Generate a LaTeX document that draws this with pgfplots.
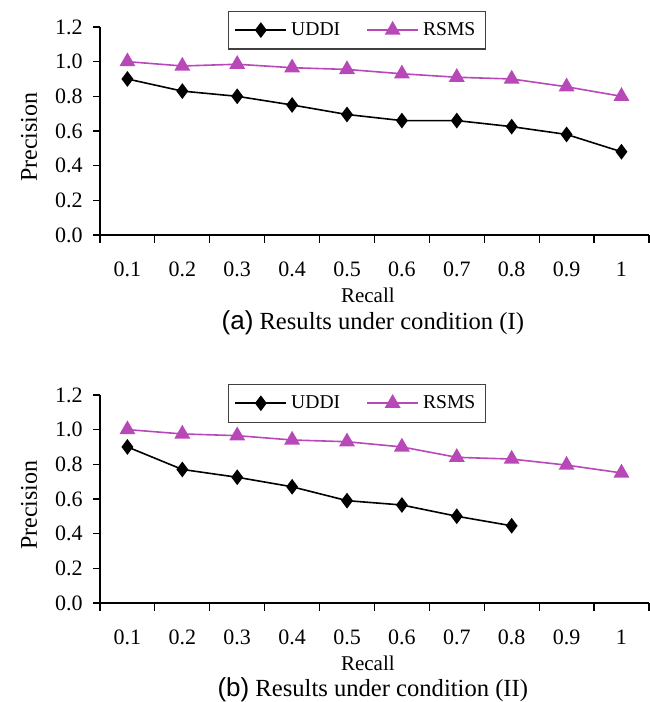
\documentclass[border=0pt]{standalone}
\usepackage{pgfplots}
\pgfplotsset{compat=1.18}
\usepackage{fontspec}
\setmainfont{Liberation Serif}
\newfontfamily\capsans{Liberation Sans}
\definecolor{rsmscol}{RGB}{184,72,184}
\pgfplotsset{
  myaxis/.style={
    scale only axis, width=274.5pt, height=104pt,
    xmin=-0.5, xmax=9.5, ymin=0, ymax=1.2,
    axis x line=bottom, axis y line=left,
    axis line style={-, line width=0.6pt},
    tick align=outside,
    xtick={0,...,9},
    xticklabels={0.1,0.2,0.3,0.4,0.5,0.6,0.7,0.8,0.9,1},
    major x tick style={draw=none},
    minor xtick={-0.5,0.5,1.5,2.5,3.5,4.5,5.5,6.5,7.5,8.5,9.5},
    minor tick length=3.8pt, major tick length=3.6pt,
    minor x tick style={line width=0.6pt, black},
    major y tick style={line width=0.6pt, black},
    ytick={0,0.2,0.4,0.6,0.8,1.0,1.2},
    /pgf/number format/assume math mode=true,
    yticklabel style={/pgf/number format/fixed, /pgf/number format/fixed zerofill, /pgf/number format/precision=1, xshift=-1.5pt},
    xticklabel style={yshift=-6.5pt},
    tick label style={font=\fontsize{11}{12}\selectfont},
    ylabel={Precision},
    ylabel style={at={([xshift=-35.5pt]axis description cs:0,0.47)}, anchor=center, font=\fontsize{12}{14}\selectfont},
    xlabel={Recall},
    xlabel style={at={([yshift=-30pt]axis description cs:0.488,0)}, anchor=center, font=\fontsize{10.5}{12}\selectfont},
    legend columns=2,
    legend style={anchor=center, draw=black!75, line width=0.6pt, font=\fontsize{9.8}{11}\selectfont,
      inner xsep=3pt, inner ysep=3.5pt,
      /tikz/every even column/.append style={column sep=11pt}},
    legend image code/.code={\draw[mark repeat=2,mark phase=2] plot coordinates {(0cm,0cm)(0.45cm,0cm)(0.9cm,0cm)};},
    clip=false,
  },
  uddiline/.style={black, line width=0.8pt, mark=diamond*, mark size=3.3pt, mark options={solid, fill=black}},
  rsmsline/.style={rsmscol, line width=0.8pt, mark=triangle*, mark size=3.8pt, mark options={solid, fill=rsmscol}},
}
\begin{document}
\begin{tikzpicture}
\path (-50pt,-49.5pt) rectangle (274.5pt,301.5pt);
% top panel
\begin{axis}[myaxis, at={(0,184pt)}, anchor=south west,
  legend style={at={(axis description cs:0.468,0.985)}}]
\addplot[uddiline] coordinates {(0,0.9)(1,0.83)(2,0.8)(3,0.75)(4,0.695)(5,0.66)(6,0.66)(7,0.625)(8,0.58)(9,0.48)};
\addplot[rsmsline] coordinates {(0,1.0)(1,0.975)(2,0.985)(3,0.965)(4,0.955)(5,0.93)(6,0.91)(7,0.9)(8,0.855)(9,0.8)};
\legend{UDDI,RSMS}
\node[anchor=center, inner sep=0pt, font=\fontsize{12.3}{14}\selectfont] at ([yshift=-44pt]axis description cs:0.497,0) {{\capsans\fontsize{13}{15}\selectfont(a)} Results under condition (I)};
\end{axis}
% bottom panel
\begin{axis}[myaxis, at={(0,0)}, anchor=south west,
  legend style={at={(axis description cs:0.468,0.96)}}]
\addplot[uddiline] coordinates {(0,0.9)(1,0.77)(2,0.725)(3,0.67)(4,0.59)(5,0.565)(6,0.5)(7,0.445)};
\addplot[rsmsline] coordinates {(0,1.0)(1,0.975)(2,0.965)(3,0.94)(4,0.93)(5,0.9)(6,0.84)(7,0.83)(8,0.795)(9,0.75)};
\legend{UDDI,RSMS}
\node[anchor=center, inner sep=0pt, font=\fontsize{12.3}{14}\selectfont] at ([yshift=-43.5pt]axis description cs:0.497,0) {{\capsans\fontsize{13}{15}\selectfont(b)} Results under condition (II)};
\end{axis}
\end{tikzpicture}
\end{document}
